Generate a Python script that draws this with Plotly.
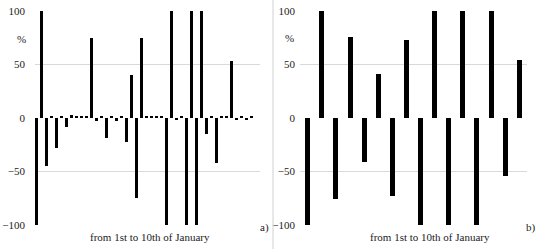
import plotly.graph_objects as go

# panel a) - changes over the period, % (read from the picture)
values_a = [-100, 100, -45, 2, -28, 2, -8, 3, 2, 2,
            2, 75, -3, 2, -19, 2, -3, 2, -22, 40,
            -75, 75, 2, 2, 2, 2, -100, 100, -2, 2,
            -100, 100, -100, 100, -15, 2, -42, 2, 2, 53,
            -2, 2, -2, 2]
# panel b) - daily changes, %
values_b = [-100, 100, -76, 76, -41, 41, -73, 73,
            -100, 100, -100, 100, -100, 100, -54, 54]

y_ticks = [-100, -50, 0, 50, 100]
x_title = "from 1st to 10th of January"

W, H = 550, 249
FONT = "Liberation Serif"


def px(x):
    return x / W


def py(y):
    return 1 - y / H


fig = go.Figure()
fig.add_trace(go.Bar(x=list(range(len(values_a))), y=values_a, width=0.5,
                     marker=dict(color="black", line_width=0),
                     xaxis="x", yaxis="y"))
fig.add_trace(go.Bar(x=list(range(len(values_b))), y=values_b, width=0.36,
                     marker=dict(color="black", line_width=0),
                     xaxis="x2", yaxis="y2"))

yax = dict(range=[-100, 100], tickvals=y_ticks, showgrid=True,
           gridcolor="#d9d9d9", gridwidth=1, zeroline=True,
           zerolinecolor="white", zerolinewidth=1, showline=False,
           automargin=False, ticklabeloverflow="allow",
           tickfont=dict(family=FONT, size=11, color="#222"),
           domain=[py(225), py(11)])
xax = dict(showgrid=False, zeroline=False, showticklabels=False,
           showline=False, ticks="", automargin=False)

fig.update_layout(
    template="none",
    width=W, height=H, margin=dict(l=0, r=0, t=0, b=0, autoexpand=False),
    paper_bgcolor="white", plot_bgcolor="white", showlegend=False,
    bargap=0,
    xaxis=dict(**xax, domain=[px(35), px(260)], range=[-0.3, 44.7]),
    yaxis=dict(**yax, anchor="x", ticklabelstandoff=9),
    xaxis2=dict(**xax, domain=[px(300), px(527)], range=[-0.55, 15.55], anchor="y2"),
    yaxis2=dict(**yax, anchor="x2", ticklabelstandoff=4),
)

ann = dict(showarrow=False, xref="paper", yref="paper",
           xanchor="center", yanchor="middle",
           font=dict(family=FONT, size=11, color="#222"))
fig.add_annotation(**ann, text="%", x=px(21), y=py(39))
fig.add_annotation(**ann, text="%", x=px(289), y=py(38))
fig.add_annotation(**ann, text=x_title, x=px(150), y=py(237))
fig.add_annotation(**ann, text=x_title, x=px(430), y=py(237))
fig.add_annotation(**ann, text="a)", x=px(264), y=py(227))
fig.add_annotation(**ann, text="b)", x=px(531), y=py(227))

fig.add_shape(type="line", xref="paper", yref="paper",
              x0=px(273), x1=px(273), y0=0, y1=1,
              line=dict(color="#d0d0d0", width=1))

# drop the default 8px body margin so the figure sits at the window corner
fig.write_html("out.html", config={"displayModeBar": False},
               post_script="document.body.style.margin='0';")
